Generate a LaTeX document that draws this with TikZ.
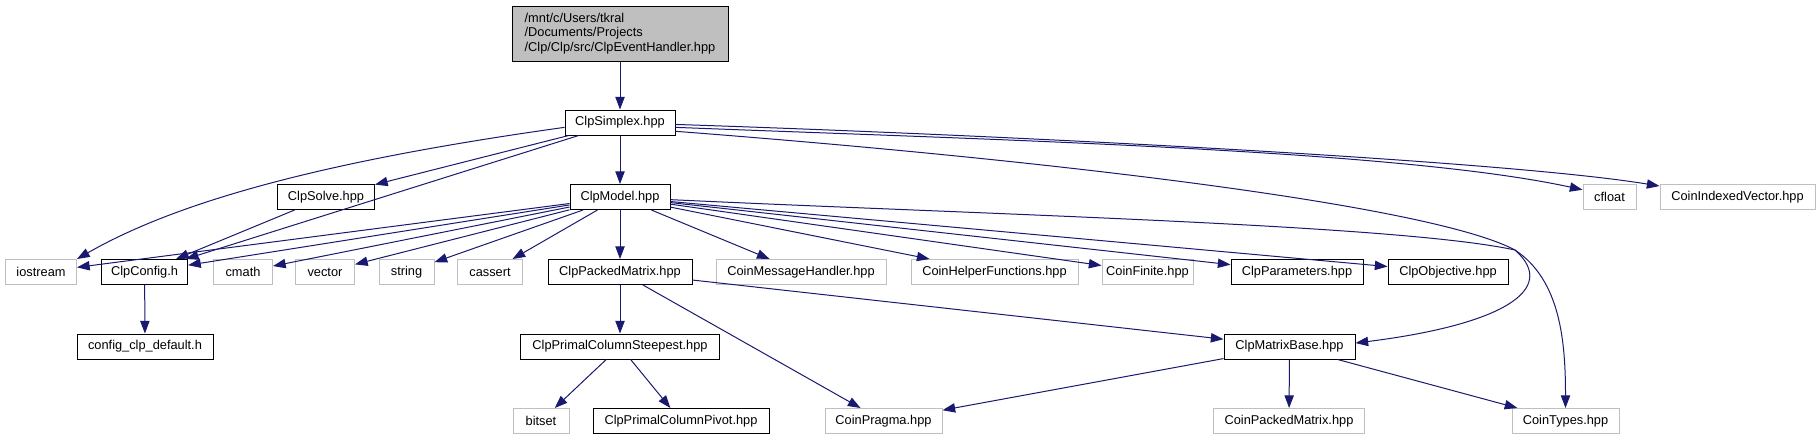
\documentclass[tikz,border=0pt]{standalone}
\usepackage{fontspec}
\setmainfont{Liberation Sans}
\usetikzlibrary{arrows.meta}
\definecolor{edgeblue}{HTML}{191970}
\definecolor{extgrey}{HTML}{BFBFBF}

\begin{document}
\begin{tikzpicture}[x=0.75pt, y=-0.75pt,
  every node/.style={font=\fontsize{9.6}{11}\selectfont, inner xsep=2pt, inner ysep=0pt, minimum height=18.75pt, line width=0.75pt},
  boxw/.style={minimum width=#1*0.75pt},
  incl/.style={draw=black, fill=white},
  ext/.style={draw=extgrey, fill=white},
  dep/.style={draw=edgeblue, line width=0.75pt, -{Triangle[length=9.5pt, width=7pt]}}]
  \useasboundingbox (0,0) rectangle (1820,440);

  % Root file
  \node[incl, fill=extgrey, boxw=216, minimum height=41.25pt, align=left] (root) at (620,33.5)
    {/mnt/c/Users/tkral\\/Documents/Projects\\/Clp/Clp/src/ClpEventHandler.hpp};

  % Second and third rows
  \node[incl, boxw=110] (simplex) at (620,122.5) {ClpSimplex.hpp};
  \node[incl, boxw=97] (solve) at (326,197) {ClpSolve.hpp};
  \node[incl, boxw=100] (model) at (620,197) {ClpModel.hpp};
  \node[ext, boxw=53] (cfloat) at (1609.5,197) {cfloat};
  \node[ext, boxw=155] (indexed) at (1737.5,197) {CoinIndexedVector.hpp};

  % Row of direct includes of ClpModel
  \node[ext, boxw=71] (iostream) at (41,272) {iostream};
  \node[incl, boxw=86] (config) at (144.6,272) {ClpConfig.h};
  \node[ext, boxw=59] (cmath) at (243,272) {cmath};
  \node[ext, boxw=59] (vector) at (325,272) {vector};
  \node[ext, boxw=55] (string) at (406.5,272) {string};
  \node[ext, boxw=65] (cassert) at (490,272) {cassert};
  \node[incl, boxw=144] (packed) at (620,272) {ClpPackedMatrix.hpp};
  \node[ext, boxw=170] (msghandler) at (801,272) {CoinMessageHandler.hpp};
  \node[ext, boxw=167] (helper) at (994.5,272) {CoinHelperFunctions.hpp};
  \node[ext, boxw=91] (finite) at (1147.5,272) {CoinFinite.hpp};
  \node[incl, boxw=132] (params) at (1297,272) {ClpParameters.hpp};
  \node[incl, boxw=120] (objective) at (1448,272) {ClpObjective.hpp};

  % Fourth row
  \node[incl, boxw=136] (cfgdefault) at (145,346.5) {config\_clp\_default.h};
  \node[incl, boxw=199] (steepest) at (620,346.5) {ClpPrimalColumnSteepest.hpp};
  \node[incl, boxw=131] (matrixbase) at (1289.5,346.5) {ClpMatrixBase.hpp};

  % Bottom row
  \node[ext, boxw=56] (bitset) at (541,421) {bitset};
  \node[incl, boxw=176] (pivot) at (681,421) {ClpPrimalColumnPivot.hpp};
  \node[ext, boxw=117] (pragma) at (883.5,421) {CoinPragma.hpp};
  \node[ext, boxw=151] (coinpacked) at (1289,421) {CoinPackedMatrix.hpp};
  \node[ext, boxw=107] (cointypes) at (1565.5,421) {CoinTypes.hpp};

  % Edges from the root and ClpSimplex
  \draw[dep] (root) -- (simplex);
  \draw[dep] (simplex.185) .. controls (330,160) and (180,200) .. (iostream.north east);
  \draw[dep] (simplex) -- (solve);
  \draw[dep] (simplex) -- (config);
  \draw[dep] (simplex) -- (model);
  \draw[dep] (simplex.-5) .. controls (1000,140) and (1400,150) .. (cfloat.165);
  \draw[dep] (simplex.-2) .. controls (1000,135) and (1500,160) .. (indexed.172);
  \draw[dep] (simplex.-9) .. controls (1050,160) and (1430,205) .. (1515,250)
    .. controls (1560,290) and (1500,325) .. (matrixbase.3);
  \draw[dep] (solve) -- (config);

  % Edges from ClpModel
  \foreach \dst in {iostream,config,cmath,vector,string,cassert,packed,
                    msghandler,helper,finite,params,objective}
    \draw[dep] (model) -- (\dst);
  \draw[dep] (model.-3.5) .. controls (1000,215) and (1400,225) .. (1515,250)
    .. controls (1560,280) and (1565.5,340) .. (cointypes.north);

  % Lower edges
  \draw[dep] (config) -- (cfgdefault);
  \draw[dep] (packed) -- (steepest);
  \draw[dep] (packed) -- (pragma);
  \draw[dep] (packed) -- (matrixbase);
  \draw[dep] (steepest) -- (bitset);
  \draw[dep] (steepest) -- (pivot);
  \draw[dep] (matrixbase) -- (pragma);
  \draw[dep] (matrixbase) -- (coinpacked);
  \draw[dep] (matrixbase) -- (cointypes);
\end{tikzpicture}
\end{document}
